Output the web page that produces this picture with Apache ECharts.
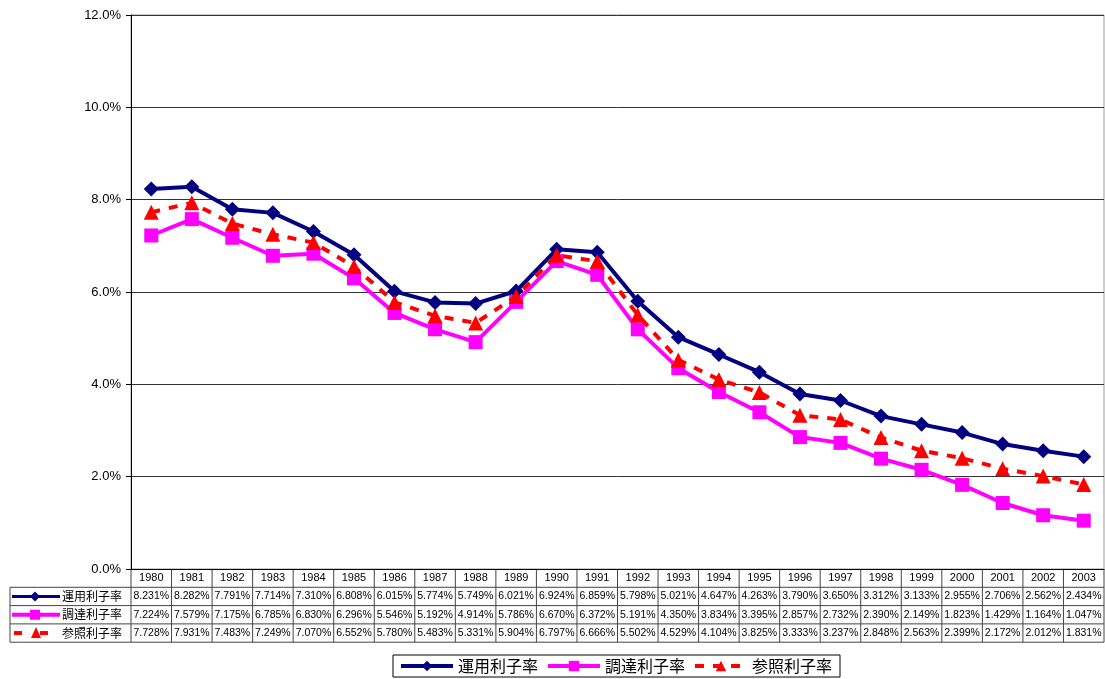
<!DOCTYPE html>
<html><head><meta charset="utf-8">
<script src="https://cdn.jsdelivr.net/npm/echarts@6/dist/echarts.min.js"></script>
<style>html,body{margin:0;padding:0;background:#fff}#c{width:1105px;height:679px}</style>
</head><body><div id="c"></div>
<script>
const years = ['1980','1981','1982','1983','1984','1985','1986','1987','1988','1989','1990','1991','1992','1993','1994','1995','1996','1997','1998','1999','2000','2001','2002','2003'];
const unyou = [8.231,8.282,7.791,7.714,7.310,6.808,6.015,5.774,5.749,6.021,6.924,6.859,5.798,5.021,4.647,4.263,3.790,3.650,3.312,3.133,2.955,2.706,2.562,2.434];
const choutatsu = [7.224,7.579,7.175,6.785,6.830,6.296,5.546,5.192,4.914,5.786,6.670,6.372,5.191,4.350,3.834,3.395,2.857,2.732,2.390,2.149,1.823,1.429,1.164,1.047];
const sanshou = [7.728,7.931,7.483,7.249,7.070,6.552,5.780,5.483,5.331,5.904,6.797,6.666,5.502,4.529,4.104,3.825,3.333,3.237,2.848,2.563,2.399,2.172,2.012,1.831];
const seriesNames = ['運用利子率','調達利子率','参照利子率'];
const yTicks = [0,2,4,6,8,10,12];

const NAVY='#000080', MAG='#FF00FF', RED='#FF0000';
const chart = echarts.init(document.getElementById('c'));
const GL=131, GT=15, GR=1, GB=110;
chart.setOption({
  animation:false,
  textStyle:{fontFamily:'Liberation Sans, Arial, sans-serif'},
  grid:{left:GL,top:GT,right:GR,bottom:GB,show:true,borderColor:'#999',borderWidth:1,backgroundColor:'transparent'},
  legend:{
    left:393, top:655, orient:'horizontal',
    data:seriesNames,
    itemWidth:52, itemHeight:13, itemGap:8,
    borderColor:'#000', borderWidth:1, padding:[3,8,3,6],
    lineStyle:{width:4},
    textStyle:{fontSize:16, color:'#000', fontFamily:'Noto Sans CJK JP, sans-serif'}
  },
  xAxis:{type:'category',data:years,boundaryGap:true,
    axisLine:{show:true,lineStyle:{color:'#000',width:1}},
    axisTick:{show:false},axisLabel:{show:false},splitLine:{show:false}},
  yAxis:{type:'value',min:yTicks[0],max:yTicks[yTicks.length-1],interval:2,
    axisLine:{show:true,lineStyle:{color:'#000',width:1}},
    axisTick:{show:true,length:5,lineStyle:{color:'#000'}},
    axisLabel:{formatter:v=>v.toFixed(1)+'%',fontSize:13,color:'#000',margin:10},
    splitLine:{show:true,lineStyle:{color:'#333',width:1}}},
  series:[
    {name:seriesNames[0],type:'line',data:unyou,symbol:'diamond',symbolSize:15,
     lineStyle:{color:NAVY,width:4},itemStyle:{color:NAVY},z:4},
    {name:seriesNames[1],type:'line',data:choutatsu,symbol:'rect',symbolSize:14,
     lineStyle:{color:MAG,width:4},itemStyle:{color:MAG},z:3},
    {name:seriesNames[2],type:'line',data:sanshou,symbol:'triangle',symbolSize:15,
     lineStyle:{color:RED,width:4,type:[9,9]},itemStyle:{color:RED},z:5}
  ]
});

// Data table below the chart
const g=[];
const cw = chart.convertToPixel({xAxisIndex:0},1)-chart.convertToPixel({xAxisIndex:0},0);
const x0 = chart.convertToPixel({xAxisIndex:0},0)-cw/2;
const tTop = 569, rh = 18.3, tLeft = 10;
const xEnd = x0 + cw*years.length;
const rowsData=[unyou,choutatsu,sanshou];
const lineC='#444';
for(let r=1;r<=4;r++){
  const y=tTop+rh*r;
  g.push({type:'line',shape:{x1:tLeft,y1:y,x2:xEnd,y2:y},style:{stroke:lineC,lineWidth:1}});
}
g.push({type:'line',shape:{x1:tLeft,y1:tTop+rh,x2:tLeft,y2:tTop+rh*4},style:{stroke:lineC,lineWidth:1}});
for(let i=0;i<=years.length;i++){
  const x=x0+cw*i;
  g.push({type:'line',shape:{x1:x,y1:tTop,x2:x,y2:tTop+rh*4},style:{stroke:lineC,lineWidth:1}});
}
years.forEach((yv,i)=>{
  const cx=x0+cw*(i+0.5);
  g.push({type:'text',style:{text:yv,x:cx,y:tTop+rh*0.5,align:'center',verticalAlign:'middle',fontSize:11,fill:'#000',fontFamily:'Liberation Sans, Arial'}});
  rowsData.forEach((arr,r)=>{
    g.push({type:'text',style:{text:arr[i].toFixed(3)+'%',x:cx,y:tTop+rh*(r+1.5),align:'center',verticalAlign:'middle',fontSize:10.5,fill:'#000',fontFamily:'Liberation Sans, Arial'}});
  });
});
const colors=[NAVY,MAG,RED];
seriesNames.forEach((n,r)=>{
  const cy=tTop+rh*(r+1.5);
  if(r<2){
    g.push({type:'line',shape:{x1:12,y1:cy,x2:60,y2:cy},style:{stroke:colors[r],lineWidth:r===0?3:4}});
  } else {
    g.push({type:'line',shape:{x1:14,y1:cy,x2:22,y2:cy},style:{stroke:RED,lineWidth:4}});
    g.push({type:'line',shape:{x1:40,y1:cy,x2:48,y2:cy},style:{stroke:RED,lineWidth:4}});
  }
  if(r===0) g.push({type:'polygon',shape:{points:[[35,cy-5],[40,cy],[35,cy+5],[30,cy]]},style:{fill:NAVY}});
  if(r===1) g.push({type:'rect',shape:{x:30,y:cy-5,width:10,height:10},style:{fill:MAG}});
  if(r===2) g.push({type:'polygon',shape:{points:[[36,cy-6],[41,cy+5],[31,cy+5]]},style:{fill:RED}});
  g.push({type:'text',style:{text:n,x:62,y:cy,align:'left',verticalAlign:'middle',fontSize:12,fill:'#000',fontFamily:'Noto Sans CJK JP, sans-serif'}});
});
chart.setOption({graphic:{elements:g}});
</script></body></html>
